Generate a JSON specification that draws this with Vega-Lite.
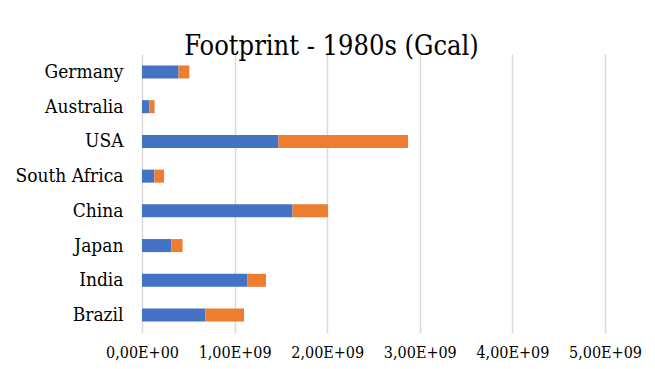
{
  "$schema": "https://vega.github.io/schema/vega-lite/v6.json",
  "width": 463,
  "height": 279,
  "autosize": {"type": "none"},
  "padding": {"left": 142, "top": 54, "right": 50, "bottom": 36},
  "background": "white",
  "title": {
    "text": "Footprint - 1980s (Gcal)",
    "font": "DejaVu Serif Condensed, DejaVu Serif, serif",
    "fontSize": 27,
    "fontWeight": "normal",
    "color": "#000000",
    "anchor": "middle",
    "frame": "group",
    "dx": -42,
    "dy": 27,
    "baseline": "alphabetic",
    "offset": -1
  },
  "data": {
    "values": [
      {"country": "Germany", "part": "A", "k": 1, "value": 395000000},
      {"country": "Germany", "part": "B", "k": 2, "value": 116000000},
      {"country": "Australia", "part": "A", "k": 1, "value": 79000000},
      {"country": "Australia", "part": "B", "k": 2, "value": 57000000},
      {"country": "USA", "part": "A", "k": 1, "value": 1472000000},
      {"country": "USA", "part": "B", "k": 2, "value": 1401000000},
      {"country": "South Africa", "part": "A", "k": 1, "value": 133000000},
      {"country": "South Africa", "part": "B", "k": 2, "value": 105000000},
      {"country": "China", "part": "A", "k": 1, "value": 1626000000},
      {"country": "China", "part": "B", "k": 2, "value": 383000000},
      {"country": "Japan", "part": "A", "k": 1, "value": 316000000},
      {"country": "Japan", "part": "B", "k": 2, "value": 122000000},
      {"country": "India", "part": "A", "k": 1, "value": 1140000000},
      {"country": "India", "part": "B", "k": 2, "value": 199000000},
      {"country": "Brazil", "part": "A", "k": 1, "value": 684000000},
      {"country": "Brazil", "part": "B", "k": 2, "value": 418000000}
    ]
  },
  "mark": {"type": "bar"},
  "encoding": {
    "y": {
      "field": "country",
      "type": "nominal",
      "sort": ["Germany", "Australia", "USA", "South Africa", "China", "Japan", "India", "Brazil"],
      "scale": {"paddingInner": 0.625, "paddingOuter": 0.33},
      "axis": {
        "title": null,
        "domain": false,
        "ticks": false,
        "labelFont": "DejaVu Serif Condensed, DejaVu Serif, serif",
        "labelFontSize": 19,
        "labelColor": "#000000",
        "labelPadding": 19
      }
    },
    "x": {
      "field": "value",
      "type": "quantitative",
      "stack": "zero",
      "scale": {"domain": [0, 5000000000], "nice": false},
      "axis": {
        "title": null,
        "values": [0, 1000000000, 2000000000, 3000000000, 4000000000, 5000000000],
        "domain": false,
        "ticks": false,
        "grid": true,
        "gridColor": "#d9d9d9",
        "gridWidth": 1.5,
        "labelExpr": "datum.value == 0 ? '0,00E+00' : replace(format(datum.value / 1e9, '.2f'), '.', ',') + 'E+09'",
        "labelFont": "DejaVu Serif Condensed, DejaVu Serif, serif",
        "labelFontSize": 16,
        "labelColor": "#000000",
        "labelPadding": 11,
        "labelFlush": false
      }
    },
    "color": {
      "field": "part",
      "type": "nominal",
      "scale": {"domain": ["A", "B"], "range": ["#4472C4", "#ED7D31"]},
      "legend": null
    },
    "order": {"field": "k", "type": "quantitative"}
  },
  "config": {"view": {"stroke": null}}
}
